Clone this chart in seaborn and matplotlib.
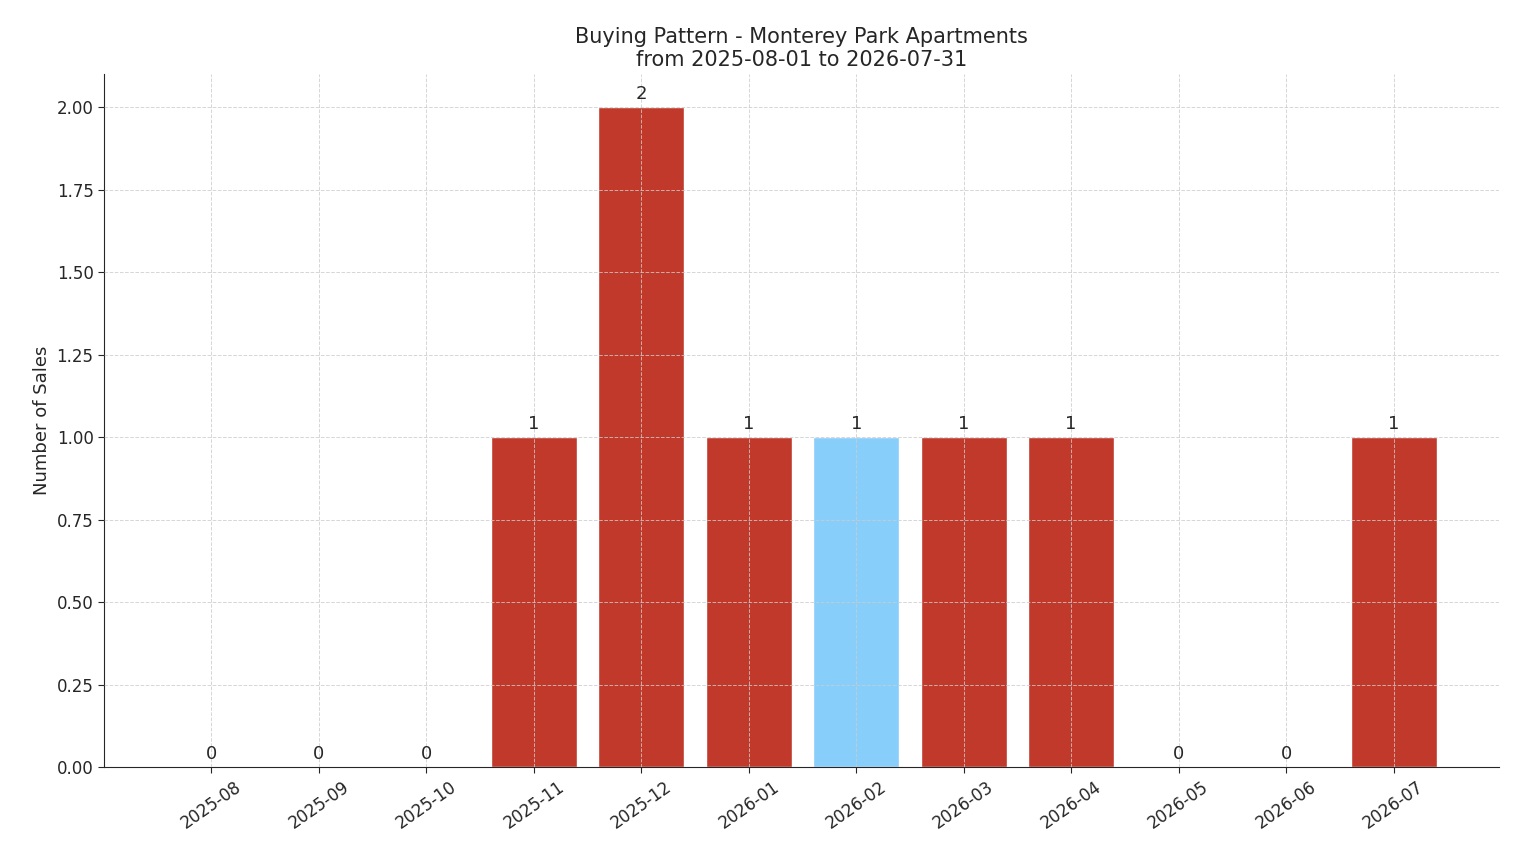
import matplotlib
matplotlib.use("Agg")
import matplotlib.pyplot as plt
import seaborn as sns
import pandas as pd

months = ["2025-08","2025-09","2025-10","2025-11","2025-12","2026-01",
          "2026-02","2026-03","2026-04","2026-05","2026-06","2026-07"]
sales = [0,0,0,1,2,1,1,1,1,0,0,1]
highlight = "2026-02"

sns.set_style("white")
df = pd.DataFrame({"month": months, "sales": sales})
df["kind"] = ["hi" if m == highlight else "lo" for m in months]

fig, ax = plt.subplots(figsize=(15.14, 8.63), dpi=100)
fig.subplots_adjust(left=0.0687, right=0.990, top=0.914, bottom=0.111)
sns.barplot(data=df, x="month", y="sales", hue="kind",
            palette={"hi": "#87cefa", "lo": "#c0392b"}, dodge=False,
            width=0.8, saturation=1, legend=False, ax=ax)
for c in ax.containers:
    ax.bar_label(c, fmt="%d", padding=3, fontsize=13)
ax.set_xlim(-1.0, 11.98)
ax.set_ylim(0, 2.1)
ax.set_yticks([0,0.25,0.5,0.75,1.0,1.25,1.5,1.75,2.0])
ax.set_yticklabels([f"{v:.2f}" for v in ax.get_yticks()])
ax.grid(True, linestyle="--", color="#cccccc", linewidth=0.7, alpha=0.8)
ax.set_axisbelow(False)
for s in ["top", "right"]:
    ax.spines[s].set_visible(False)
ax.tick_params(axis="x", rotation=35, labelsize=12, bottom=True, length=4)
ax.tick_params(axis="y", labelsize=12, left=True, length=4)
ax.set_xlabel("")
ax.set_ylabel("Number of Sales", fontsize=13)
ax.set_title("Buying Pattern - Monterey Park Apartments\nfrom 2025-08-01 to 2026-07-31", fontsize=15)
fig.savefig("out.png", dpi=100)
